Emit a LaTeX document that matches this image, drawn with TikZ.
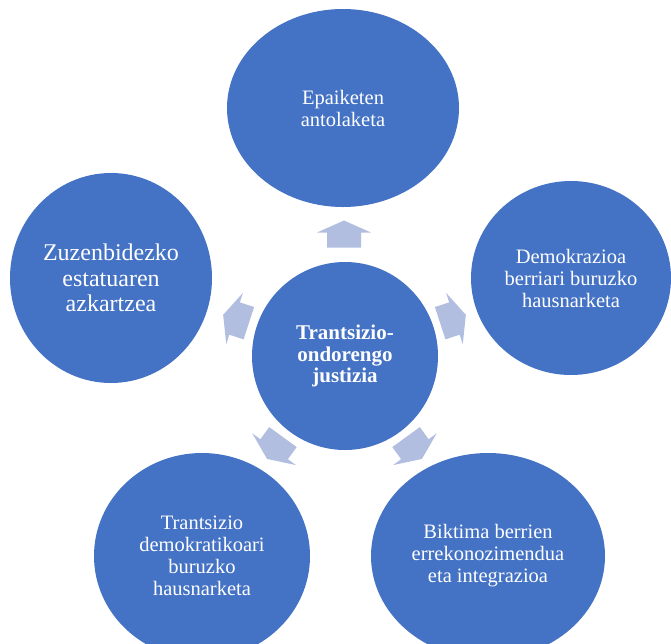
\documentclass[tikz,border=0pt]{standalone}
\usepackage{fontspec}
\setmainfont{Liberation Serif}
\usetikzlibrary{shapes.geometric}
\definecolor{ellblue}{HTML}{4472C4}
\definecolor{arrblue}{HTML}{B1BEE0}
\tikzset{
  bubble/.style={ellipse, fill=ellblue, inner sep=0pt, text=white, align=center},
  txt/.style={font=\fontsize{20.5}{22}\selectfont},
  bigtxt/.style={font=\fontsize{24}{25.5}\selectfont},
  midtxt/.style={font=\bfseries\fontsize{21}{21.5}\selectfont},
  arrowfill/.style={fill=arrblue}
}
\newcommand\blockarrow[2]{%
  \fill[arrowfill, shift={#1}, rotate=#2]
    (-13.5pt,-17pt) -- (1.5pt,-17pt) -- (1.5pt,-27pt) -- (13.5pt,0pt)
    -- (1.5pt,27pt) -- (1.5pt,17pt) -- (-13.5pt,17pt) -- cycle;}
\begin{document}
\begin{tikzpicture}[x=1pt,y=-1pt]
\useasboundingbox (0,0) rectangle (671,643);
\clip (0,0) rectangle (671,643);
% center
\node[bubble, minimum width=186pt, minimum height=188pt, midtxt] (c) at (345,356) {Trantsizio-\\ondorengo\\justizia};
% outer
\node[bubble, minimum width=232pt, minimum height=198pt, txt] (top) at (343,108) {Epaiketen\\antolaketa};
\node[bubble, minimum width=202pt, minimum height=210pt, bigtxt] (left) at (111,278) {Zuzenbidezko\\estatuaren\\azkartzea};
\node[bubble, minimum width=200pt, minimum height=194pt, txt] (right) at (571,278) {Demokrazioa\\berriari buruzko\\hausnarketa};
\node[bubble, minimum width=216pt, minimum height=206pt, txt] (bl) at (202,556) {Trantsizio\\demokratikoari\\buruzko\\hausnarketa};
\node[bubble, minimum width=234pt, minimum height=206pt, txt] (br) at (488,556) {Biktima berrien\\errekonozimendua\\eta integrazioa};
% arrows
\blockarrow{(344,234)}{90}
\blockarrow{(236,319)}{162}
\blockarrow{(453,319)}{18}
\blockarrow{(275,448)}{234}
\blockarrow{(414,448)}{306}
\end{tikzpicture}
\end{document}
